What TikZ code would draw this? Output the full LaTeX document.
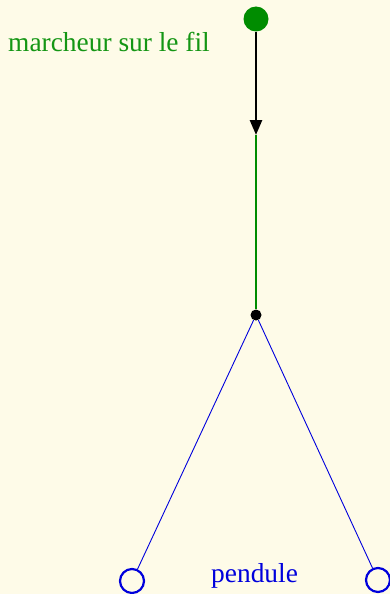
\documentclass[tikz,border=0pt]{standalone}
\usepackage{fontspec}
\setmainfont{Liberation Serif}
\usetikzlibrary{arrows.meta}
\definecolor{bg}{RGB}{254,251,232}
\definecolor{wgreen}{RGB}{0,140,0}
\definecolor{tgreen}{RGB}{20,150,20}
\definecolor{pblue}{RGB}{0,0,220}
\tikzset{
  walker/.style={circle,fill=wgreen,inner sep=0pt,minimum size=25pt},
  joint/.style={circle,fill=black,inner sep=0pt,minimum size=11pt},
  bob/.style={circle,draw=pblue,line width=2.2pt,inner sep=0pt,minimum size=24pt},
  lbl/.style={inner sep=0pt,font=\fontsize{27.4pt}{32pt}\selectfont}
}
\begin{document}
\begin{tikzpicture}[x=1pt,y=-1pt]
\fill[bg] (0,0) rectangle (390,594);
\useasboundingbox (0,0) rectangle (390,594);
\node[walker] (w) at (256,19) {};
\coordinate (m) at (256,135);
\node[joint] (j) at (256,315) {};
\node[bob] (b1) at (132,581) {};
\node[bob] (b2) at (378,580) {};
\draw[wgreen,line width=2.2pt] (m) -- (j);
\draw[black,line width=2.6pt,-{Triangle[length=15pt,width=12pt]}] (w) -- (m);
\draw[pblue,line width=0.9pt] (j) -- (b1);
\draw[pblue,line width=0.9pt] (j) -- (b2);
\node[lbl,text=tgreen,anchor=base west] (t1) at (8,52) {marcheur sur le fil};
\node[lbl,text=pblue,anchor=base west] (t2) at (211,582) {pendule};
\end{tikzpicture}
\end{document}
